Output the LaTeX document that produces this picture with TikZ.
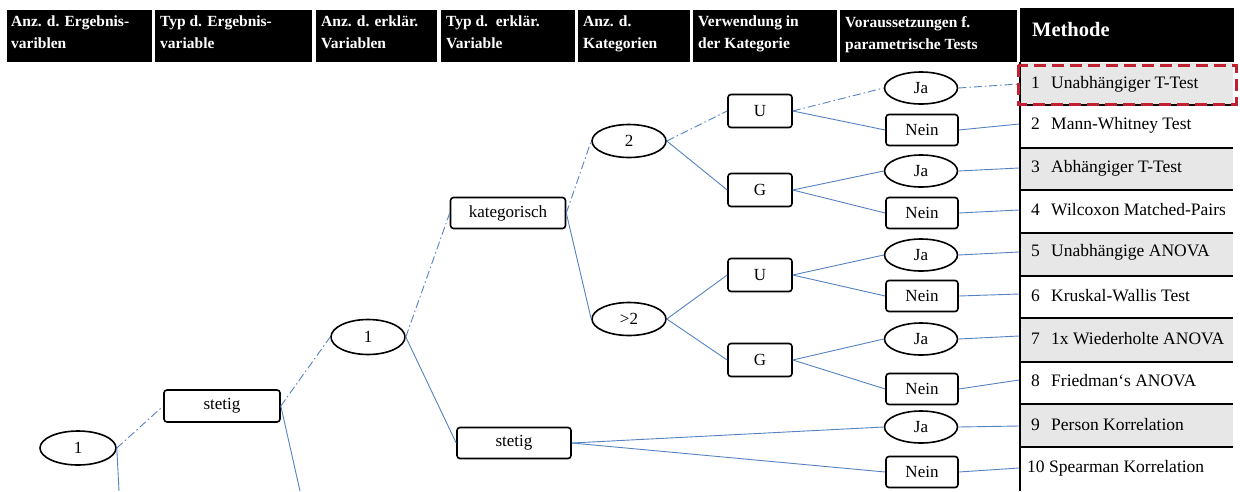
\documentclass[tikz,border=0pt]{standalone}
\usepackage{fontspec}
\setmainfont{Liberation Serif}
\usetikzlibrary{shapes.geometric}
\definecolor{conn}{RGB}{84,130,194}
\definecolor{rowgray}{RGB}{231,231,231}
\definecolor{markred}{RGB}{192,32,48}
\begin{document}
\begin{tikzpicture}[x=1pt,y=-1pt,
  nodefont/.style={font=\fontsize{17}{18}\selectfont},
  box/.style={draw=black,line width=1.6pt,rounded corners=3pt,inner sep=0pt,
    minimum height=31pt,nodefont},
  oval/.style={ellipse,draw=black,line width=1.6pt,inner sep=0pt,
    minimum width=74pt,minimum height=33pt,nodefont},
  link/.style={draw=conn,line width=0.9pt},
  chosen/.style={link,dash pattern=on 8pt off 3pt on 1.5pt off 3pt},
  headtxt/.style={text=white,font=\bfseries\fontsize{15.5}{22}\selectfont,
    align=left,anchor=north west,inner sep=0pt},
  methtxt/.style={anchor=west,inner sep=0pt,font=\fontsize{17.5}{19}\selectfont},
  rowline/.style={draw=black,line width=1.8pt}
]
\useasboundingbox (0,0) rectangle (1240,491);

% ---- header bar ----
\fill[black] (7,10) rectangle (152,62);
\fill[black] (155,10) rectangle (312,62);
\fill[black] (316,10) rectangle (437,62);
\fill[black] (441,10) rectangle (575,62);
\fill[black] (578,10) rectangle (690,62);
\fill[black] (693,10) rectangle (837,62);
\fill[black] (840,10) rectangle (1017,62);
\fill[black] (1020,8) rectangle (1234,62);
\node[headtxt] (h1) at (11,16) {Anz. d. Ergebnis-\\variblen};
\node[headtxt] (h2) at (160,16) {Typ d. Ergebnis-\\variable};
\node[headtxt] (h3) at (321,16) {Anz. d. erklär.\\Variablen};
\node[headtxt] (h4) at (446,16) {Typ d.\ \ erklär.\\Variable};
\node[headtxt] (h5) at (583,16) {Anz. d.\\Kategorien};
\node[headtxt] (h6) at (698,16) {Verwendung in\\der Kategorie};
\node[headtxt] (h7) at (845,16) {Voraussetzungen f.\\parametrische Tests};
\node[anchor=west,inner sep=0pt,text=white,font=\bfseries\fontsize{20.5}{22}\selectfont] (h8) at (1032,29) {Methode};

% ---- method table ----
\fill[rowgray] (1020,63) rectangle (1233,105);
\fill[rowgray] (1020,148) rectangle (1233,190);
\fill[rowgray] (1020,233) rectangle (1233,276);
\fill[rowgray] (1020,318) rectangle (1233,362);
\fill[rowgray] (1020,404) rectangle (1233,447);
\foreach \yy in {105,148,190,233,276,318,362,404,447}
  \draw[rowline] (1020,\yy) -- (1233,\yy);
\draw[black,line width=2.4pt] (1020,62) -- (1020,491);

\node[methtxt] (m1) at (1031,84) {\makebox[20pt][l]{1}Unabhängiger T-Test};
\node[methtxt] (m2) at (1031,125) {\makebox[20pt][l]{2}Mann-Whitney Test};
\node[methtxt] (m3) at (1031,168) {\makebox[20pt][l]{3}Abhängiger T-Test};
\node[methtxt] (m4) at (1031,210) {\makebox[20pt][l]{4}Wilcoxon Matched-Pairs};
\node[methtxt] (m5) at (1031,252) {\makebox[20pt][l]{5}Unabhängige ANOVA};
\node[methtxt] (m6) at (1031,296) {\makebox[20pt][l]{6}Kruskal-Wallis Test};
\node[methtxt] (m7) at (1031,339) {\makebox[20pt][l]{7}1x Wiederholte ANOVA};
\node[methtxt] (m8) at (1031,381) {\makebox[20pt][l]{8}Friedman‘s ANOVA};
\node[methtxt] (m9) at (1031,425) {\makebox[20pt][l]{9}Person Korrelation};
\node[methtxt] (m10) at (1027,468) {\makebox[22pt][l]{10}Spearman Korrelation};

% highlighted result
\draw[markred,line width=3pt,dash pattern=on 12pt off 6pt] (1018,65) rectangle (1236,104);

% ---- tree nodes ----
\node[oval,minimum width=76pt,minimum height=34pt] (r1) at (78,448) {1};
\node[box,minimum width=116pt,minimum height=32pt] (s1) at (222,406) {stetig};
\node[oval,minimum height=35pt] (n1) at (368,337) {1};
\node[box,minimum width=115pt] (kat) at (508,213) {kategorisch};
\node[box,minimum width=114pt] (st2) at (514,443) {stetig};
\node[oval] (two) at (629,141) {2};
\node[oval] (gt2) at (629,319) {>2};
\node[box,minimum width=64pt,minimum height=33pt] (u1) at (760,111) {U};
\node[box,minimum width=64pt,minimum height=33pt] (g1) at (760,190) {G};
\node[box,minimum width=64pt,minimum height=33pt] (u2) at (760,275) {U};
\node[box,minimum width=64pt,minimum height=33pt] (g2) at (760,360) {G};
\node[oval,minimum width=73pt,minimum height=32pt] (ja1) at (921,88) {Ja};
\node[box,minimum width=72pt] (ne1) at (922,130) {Nein};
\node[oval,minimum width=73pt,minimum height=32pt] (ja2) at (921,171) {Ja};
\node[box,minimum width=72pt] (ne2) at (922,213) {Nein};
\node[oval,minimum width=73pt,minimum height=32pt] (ja3) at (921,255) {Ja};
\node[box,minimum width=72pt] (ne3) at (922,296) {Nein};
\node[oval,minimum width=73pt,minimum height=32pt] (ja4) at (921,339) {Ja};
\node[box,minimum width=72pt] (ne4) at (922,389) {Nein};
\node[oval,minimum width=73pt,minimum height=32pt] (ja5) at (921,427) {Ja};
\node[box,minimum width=72pt] (ne5) at (922,472) {Nein};

% table entry points
\coordinate (t1) at (1019,84);
\coordinate (t2) at (1019,124);
\coordinate (t3) at (1019,168);
\coordinate (t4) at (1019,210);
\coordinate (t5) at (1019,252);
\coordinate (t6) at (1019,294);
\coordinate (t7) at (1019,336);
\coordinate (t8) at (1019,380);
\coordinate (t9) at (1019,426);
\coordinate (t10) at (1019,468);
% branches continuing below the visible part
\coordinate (r1down) at (119,491);
\coordinate (s1down) at (300,491);

% ---- connectors ----
\draw[chosen] (r1.east) -- (s1.west);
\draw[link] (r1.east) -- (r1down);
\draw[chosen] (s1.east) -- (n1.west);
\draw[link] (s1.east) -- (s1down);
\draw[chosen] (n1.east) -- (kat.west);
\draw[link] (n1.east) -- (st2.west);
\draw[chosen] (kat.east) -- (two.west);
\draw[link] (kat.east) -- (gt2.west);
\draw[chosen] (two.east) -- (u1.west);
\draw[link] (two.east) -- (g1.west);
\draw[link] (gt2.east) -- (u2.west);
\draw[link] (gt2.east) -- (g2.west);
\draw[chosen] (u1.east) -- (ja1.west);
\draw[link] (u1.east) -- (ne1.west);
\draw[link] (g1.east) -- (ja2.west);
\draw[link] (g1.east) -- (ne2.west);
\draw[link] (u2.east) -- (ja3.west);
\draw[link] (u2.east) -- (ne3.west);
\draw[link] (g2.east) -- (ja4.west);
\draw[link] (g2.east) -- (ne4.west);
\draw[link] (st2.east) -- (ja5.west);
\draw[link] (st2.east) -- (ne5.west);
\draw[chosen] (ja1.east) -- (t1);
\draw[link] (ne1.east) -- (t2);
\draw[link] (ja2.east) -- (t3);
\draw[link] (ne2.east) -- (t4);
\draw[link] (ja3.east) -- (t5);
\draw[link] (ne3.east) -- (t6);
\draw[link] (ja4.east) -- (t7);
\draw[link] (ne4.east) -- (t8);
\draw[link] (ja5.east) -- (t9);
\draw[link] (ne5.east) -- (t10);
\end{tikzpicture}
\end{document}
